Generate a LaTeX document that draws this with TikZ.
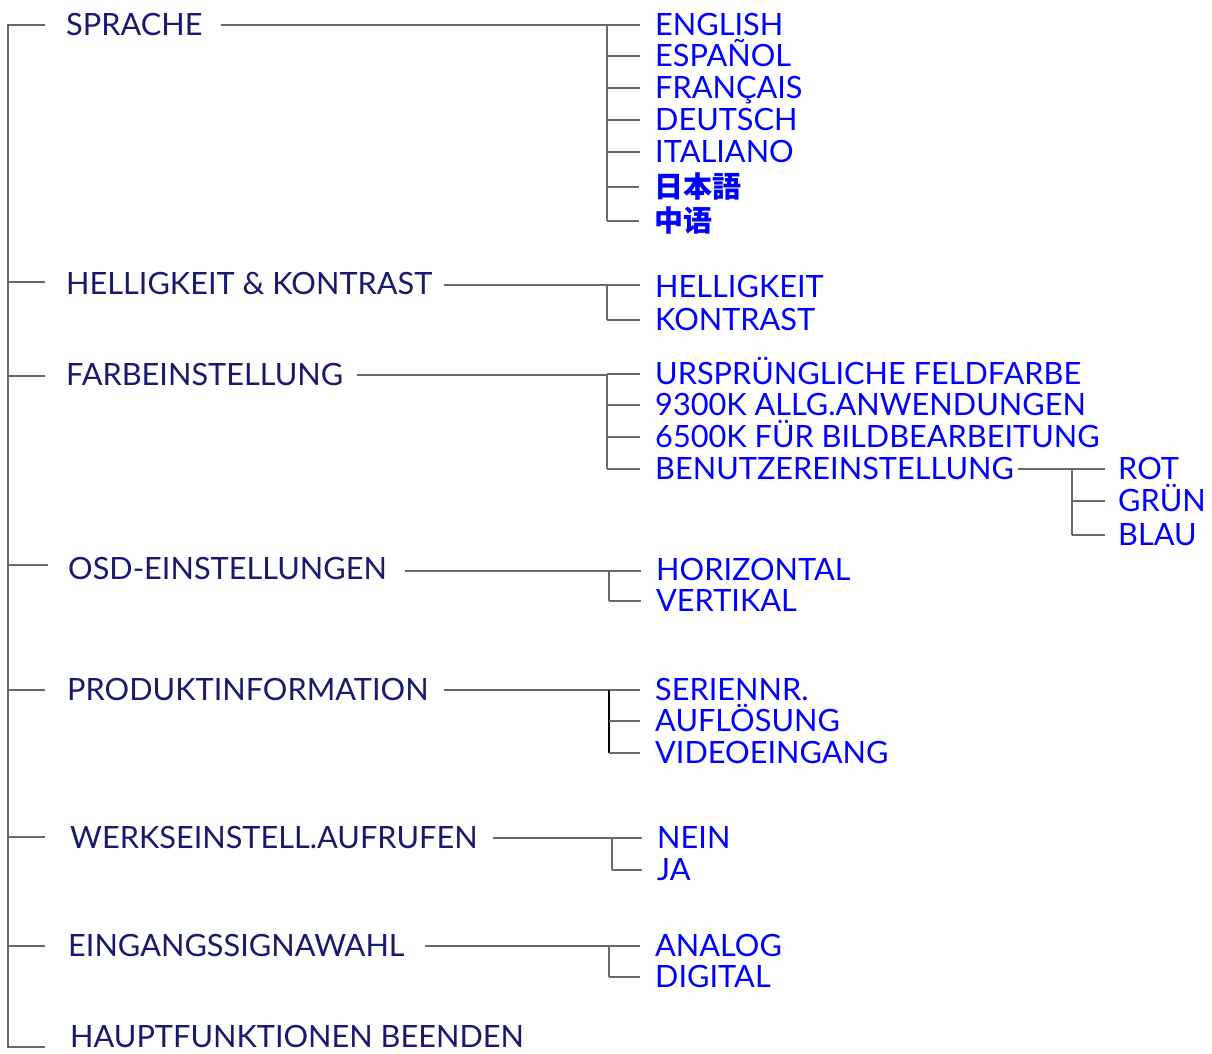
\documentclass[tikz,border=0pt]{standalone}
\usepackage{fontspec}
\setmainfont{Lato}
\newfontfamily\cjkjp{Noto Sans CJK JP}
\newfontfamily\cjksc{Noto Sans CJK SC}
\usetikzlibrary{calc}
\definecolor{navy}{RGB}{25,25,110}
\definecolor{leafblue}{RGB}{0,0,255}
\definecolor{linegray}{RGB}{105,105,105}
\begin{document}
\begin{tikzpicture}[x=1pt,y=-1pt,
  top/.style={anchor=west, inner sep=0pt, text height=21pt, text depth=0pt, text=navy, font=\fontsize{30.7}{31}\selectfont},
  leaf/.style={top, text=leafblue},
  ln/.style={draw=linegray, line width=1.8pt},
  lnk/.style={draw=black, line width=1.8pt}]
\useasboundingbox[fill=white] (0,0) rectangle (1212,1053);

% top level
\node[top] (sprache) at (66,25) {SPRACHE};
\node[top] (hk) at (66,284) {HELLIGKEIT \& KONTRAST};
\node[top] (farb) at (66,375) {FARBEINSTELLUNG};
\node[top] (osd) at (68,569) {OSD-EINSTELLUNGEN};
\node[top] (prod) at (67,690) {PRODUKTINFORMATION};
\node[top] (werk) at (70,838) {WERKSEINSTELL.AUFRUFEN};
\node[top] (eing) at (68,946) {EINGANGSSIGNAWAHL};
\node[top] (haupt) at (70,1037) {HAUPTFUNKTIONEN BEENDEN};

% trunk
\coordinate (trTop) at (8,25);
\coordinate (trBot) at (8,1047);
\coordinate (tk1) at (45,25);
\coordinate (tk2) at (45,282);
\coordinate (tk3) at (45,376);
\coordinate (tk4) at (48,565);
\coordinate (tk5) at (45,690);
\coordinate (tk6) at (45,837);
\coordinate (tk7) at (45,946);
\coordinate (tk8) at (45,1047);
\draw[ln] (tk1) -- (trTop) -- (trBot) -- (tk8);
\foreach \t in {tk2,tk3,tk4,tk5,tk6,tk7}{\draw[ln] (\t) -- (\t -| trTop);}

% SPRACHE
\coordinate (jS) at (607,25);
\node[leaf] (en) at (655,25) {ENGLISH};
\node[leaf] (es) at (655,56) {ESPAÑOL};
\node[leaf] (fr) at (655,88) {FRANÇAIS};
\node[leaf] (de) at (655,120) {DEUTSCH};
\node[leaf] (it) at (655,152) {ITALIANO};
\node[leaf,font=\cjkjp\bfseries\fontsize{29}{29}\selectfont] (ja) at (654,187) {日本語};
\node[leaf,font=\cjksc\bfseries\fontsize{29}{29}\selectfont] (zh) at (654,221) {中语};
\draw[ln] ($(sprache.east)+(18,0)$) -- (jS);
\draw[ln] (jS) -- (jS |- zh.west);
\foreach \n in {en,es,fr,de,it,ja,zh}{\draw[ln] (jS |- \n.west) -- ($(\n.west)+(-15,0)$);}

% HELLIGKEIT & KONTRAST
\coordinate (jH) at (607,285);
\node[leaf] (hell) at (655,287) {HELLIGKEIT};
\node[leaf] (kont) at (655,320) {KONTRAST};
\draw[ln] ($(hk.east |- jH)+(12,0)$) -- (jH);
\draw[ln] (jH) -- (jH |- kont.west);
\draw[ln] (jH) -- ($(jH -| hell.west)+(-15,0)$);
\draw[ln] (jH |- kont.west) -- ($(kont.west)+(-15,0)$);

% FARBEINSTELLUNG
\coordinate (jF) at (607,375);
\node[leaf] (urs) at (655,374) {URSPRÜNGLICHE FELDFARBE};
\node[leaf] (k93) at (655,405) {9300K ALLG.ANWENDUNGEN};
\node[leaf] (k65) at (655,437) {6500K FÜR BILDBEARBEITUNG};
\node[leaf] (benu) at (655,469) {BENUTZEREINSTELLUNG};
\draw[ln] ($(farb.east)+(14,0)$) -- (jF);
\draw[ln] (jF) -- (jF |- benu.west);
\foreach \n in {urs,k93,k65,benu}{\draw[ln] (jF |- \n.west) -- ($(\n.west)+(-15,0)$);}

% BENUTZEREINSTELLUNG
\coordinate (jB) at (1072,469);
\node[leaf] (rot) at (1118,469) {ROT};
\node[leaf] (gru) at (1118,501) {GRÜN};
\node[leaf] (bla) at (1118,535) {BLAU};
\draw[ln] ($(benu.east)+(4,0)$) -- (jB);
\draw[ln] (jB) -- (jB |- bla.west);
\foreach \n in {rot,gru,bla}{\draw[ln] (jB |- \n.west) -- ($(\n.west)+(-13,0)$);}

% OSD
\coordinate (jO) at (609,571);
\node[leaf] (hor) at (656,570) {HORIZONTAL};
\node[leaf] (ver) at (656,601) {VERTIKAL};
\draw[ln] ($(osd.east |- jO)+(18,0)$) -- (jO);
\draw[ln] (jO) -- (jO |- ver.west);
\draw[ln] (jO) -- ($(jO -| hor.west)+(-15,0)$);
\draw[ln] (jO |- ver.west) -- ($(ver.west)+(-15,0)$);

% PRODUKTINFORMATION
\coordinate (jP) at (609,690);
\node[leaf] (ser) at (655,690) {SERIENNR.};
\node[leaf] (auf) at (655,721) {AUFLÖSUNG};
\node[leaf] (vid) at (655,753) {VIDEOEINGANG};
\draw[ln] ($(prod.east)+(15,0)$) -- (jP);
\draw[lnk] (jP) -- (jP |- vid.west);
\foreach \n in {ser,auf,vid}{\draw[ln] (jP |- \n.west) -- ($(\n.west)+(-15,0)$);}

% WERKSEINSTELL
\coordinate (jW) at (612,838);
\node[leaf] (nein) at (657,838) {NEIN};
\node[leaf] (ja) at (657,870) {JA};
\draw[ln] ($(werk.east)+(15,0)$) -- (jW);
\draw[ln] (jW) -- (jW |- ja.west);
\foreach \n in {nein,ja}{\draw[ln] (jW |- \n.west) -- ($(\n.west)+(-15,0)$);}

% EINGANGSSIGNAWAHL
\coordinate (jE) at (609,946);
\node[leaf] (ana) at (655,946) {ANALOG};
\node[leaf] (dig) at (655,977) {DIGITAL};
\draw[ln] ($(eing.east)+(20,0)$) -- (jE);
\draw[ln] (jE) -- (jE |- dig.west);
\foreach \n in {ana,dig}{\draw[ln] (jE |- \n.west) -- ($(\n.west)+(-15,0)$);}
\end{tikzpicture}
\end{document}
